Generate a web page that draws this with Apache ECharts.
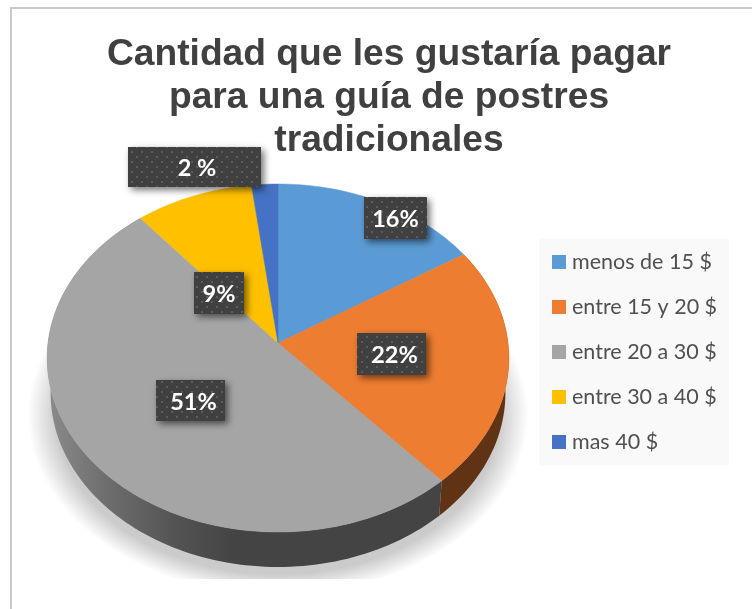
<!DOCTYPE html>
<html><head><meta charset="utf-8">
<style>html,body{margin:0;padding:0;background:#fff}#c{width:752px;height:609px}</style>
<script src="https://cdn.jsdelivr.net/npm/echarts@6/dist/echarts.min.js"></script>
</head><body><div id="c"></div>
<script>
const categories = ['menos de 15 $','entre 15 y 20 $','entre 20 a 30 $','entre 30 a 40 $','mas 40 $'];
const values = [16,22.4,50.6,9,2];
const valueLabels = ['16%','22%','51%','9%','2 %'];
const colors = ['#5b9bd5','#ed7d31','#a5a5a5','#ffc000','#4472c4'];
const titleText = 'Cantidad que les gustaría pagar\npara una guía de postres\ntradicionales';

// label boxes: [left, top, right, bottom, text centre x]
const labelBoxes = [[364,197,427,239,395.5],[357,333,426,375,394.5],[156,380,225,421,193.5],[194,272,244,314,219],[128,147,261,187,197]];

// perspective projection of the pie disc
const CX=278, CY=343, AX=230, BY=172.7, K=0.0862, DEPTH=35, SHRINK=0.985;
const total = values.reduce((a,b)=>a+b,0);
const starts = []; values.reduce((a,v,i)=>(starts[i]=a,a+v),0);
function proj(frac){
  const t=frac*2*Math.PI, u=Math.sin(t), v=-Math.cos(t), d=1-K*v;
  return [CX+AX*u/d, CY+BY*v/d];
}
function drop(p){ return [CX+(p[0]-CX)*SHRINK, p[1]+DEPTH]; }
function arc(a,b){ const n=Math.max(2,Math.ceil((b-a)*240)),r=[]; for(let i=0;i<=n;i++) r.push(proj(a+(b-a)*i/n)); return r; }

const wallFill = [null,
  '#5f3313',
  {type:'linear',global:true,x:50,y:0,x2:235,y2:0,colorStops:[{offset:0,color:'#8a8a8a'},{offset:.3,color:'#6e6e6e'},{offset:.7,color:'#525252'},{offset:1,color:'#444444'}]},
  null,null];

function pattern(){
  const c=document.createElement('canvas');c.width=c.height=10;
  const g=c.getContext('2d');g.fillStyle='#404040';g.fillRect(0,0,10,10);
  g.fillStyle='#5c5c5c';g.fillRect(1,1,2,2);g.fillRect(6,6,2,2);
  return c;
}
const labelFill = {image:pattern(),repeat:'repeat'};

const chart = echarts.init(document.getElementById('c'),null,{renderer:'canvas'});
const series = [];
// shadow + side wall
series.push({
  name:'lateral',type:'custom',coordinateSystem:'none',z:2,silent:true,
  data:values.map((v,i)=>[i,v]),
  renderItem(params,api){
    const i=api.value(0), a=starts[i]/total, b=(starts[i]+api.value(1))/total, ch=[];
    if(i===0){
      const LAYERS=26;
      for(let l=0;l<LAYERS;l++){
        const f=l/(LAYERS-1), ra=250-28*f, rb=180-20*f, pts=[];
        for(let k=0;k<120;k++){const t=k/120*2*Math.PI;pts.push([CX+ra*Math.cos(t),415+rb*Math.sin(t)]);}
        ch.push({type:'polygon',shape:{points:pts},style:{fill:'rgba(0,0,0,0.0088)'}});
      }
      ch.push({type:'rect',shape:{x:12,y:579,width:525,height:60},style:{fill:'#fff'}});
    }
    if(wallFill[i]){
      const top=arc(a,b), bot=top.map(drop).reverse();
      ch.push({type:'polygon',shape:{points:top.concat(bot)},style:{fill:wallFill[i],stroke:null}});
    }
    return {type:'group',children:ch};
  }
});
// top faces
categories.forEach((name,i)=>{
  series.push({
    name,type:'custom',coordinateSystem:'none',z:3,silent:true,
    itemStyle:{color:colors[i]},
    data:[[i,values[i]]],
    renderItem(params,api){
      const idx=api.value(0), a=starts[idx]/total, b=(starts[idx]+api.value(1))/total;
      return {type:'polygon',shape:{points:[[CX,CY]].concat(arc(a,b))},
        style:{fill:colors[idx],stroke:colors[idx],lineWidth:.5}};
    }
  });
});
// data labels
series.push({
  name:'etiquetas',type:'custom',coordinateSystem:'none',z:4,silent:true,
  data:values.map((v,i)=>[i]),
  renderItem(params,api){
    const i=api.value(0), b=labelBoxes[i];
    return {type:'group',children:[
      {type:'rect',shape:{x:b[0],y:b[1],width:b[2]-b[0],height:b[3]-b[1]},
       style:{fill:labelFill,shadowBlur:7,shadowOffsetX:3,shadowOffsetY:3,shadowColor:'rgba(0,0,0,.55)'}},
      {type:'text',style:{x:b[4],y:(b[1]+b[3])/2+1.5,text:valueLabels[i],fill:'#fff',
       font:'bold 23.5px Lato',align:'center',verticalAlign:'middle'}}
    ]};
  }
});

chart.setOption({
  animation:false,
  backgroundColor:'#fff',
  title:{text:titleText,left:384,top:28,textAlign:'center',
    textStyle:{fontFamily:'Liberation Sans',fontWeight:'bold',fontSize:37.2,lineHeight:43,color:'#404040'}},
  legend:{orient:'vertical',left:552,top:251,padding:0,itemWidth:14,itemHeight:14,itemGap:23,icon:'rect',
    data:categories,selectedMode:false,
    textStyle:{fontFamily:'Lato',fontSize:21.5,lineHeight:14,color:'#505050',padding:[0,0,0,1]}},
  graphic:[
    {type:'rect',z:0,shape:{x:10,y:7,width:742,height:2},style:{fill:'#c8c8c8'}},
    {type:'rect',z:0,shape:{x:10,y:7,width:2,height:602},style:{fill:'#c8c8c8'}},
    {type:'rect',z:1,shape:{x:539,y:239,width:190,height:226},style:{fill:'#f9f9f9'}}
  ],
  series
});
</script></body></html>
